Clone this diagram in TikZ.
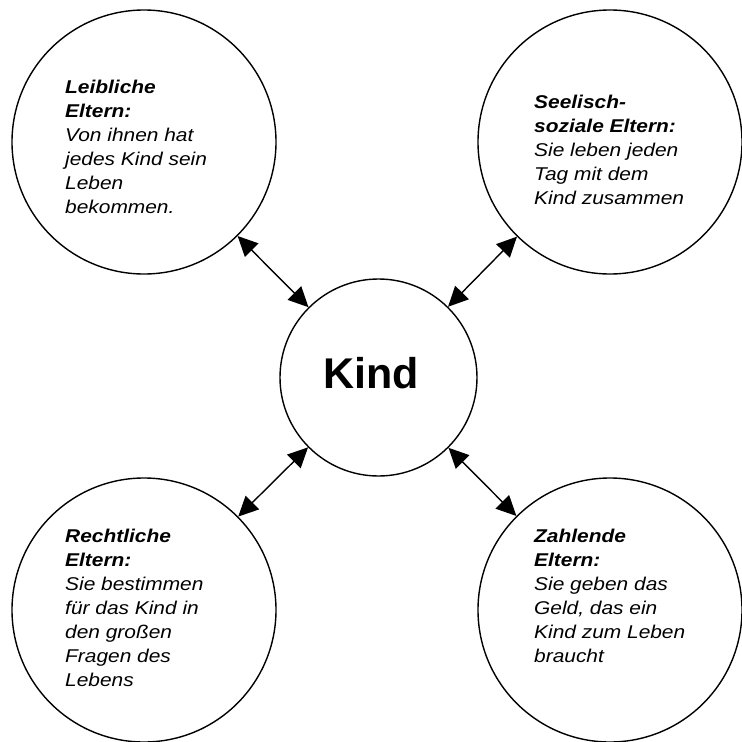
\documentclass[tikz,border=0pt]{standalone}
\usepackage{fontspec}
\usetikzlibrary{arrows.meta}
\newfontfamily\labfont[FakeStretch=1.13]{Liberation Sans}
\newfontfamily\kindfont{Liberation Sans}
\tikzset{
  ring/.style={circle, draw, line width=1.4pt, inner sep=0pt, minimum size=264pt},
  core/.style={circle, draw, line width=1.4pt, inner sep=0pt, minimum size=197pt},
  lbl/.style={anchor=base west, inner sep=0pt, font=\labfont\fontsize{18.5}{24}\selectfont},
  link/.style={line width=1.4pt, {Triangle[length=20pt,width=19pt]}-{Triangle[length=20pt,width=19pt]}}
}
\newcommand{\ttl}[1]{\textbf{\textit{#1}}}
\begin{document}
\begin{tikzpicture}[x=1pt,y=-1pt]
\useasboundingbox (0,0) rectangle (742,742);
\node[ring] (tl) at (144,142) {};
\node[ring] (tr) at (610,142) {};
\node[ring] (bl) at (144,610) {};
\node[ring] (br) at (610,610) {};
\node[core] (c) at (378.5,377.5) {};
\node[anchor=base west, inner sep=0pt, font=\kindfont\bfseries\fontsize{43}{50}\selectfont] (kind) at (323,388) {Kind};
\node[lbl] (tltext) at (65,93) {\begin{tabular}[t]{@{}l@{}}\ttl{Leibliche}\\ \ttl{Eltern:}\\ \textit{Von ihnen hat}\\ \textit{jedes Kind sein}\\ \textit{Leben}\\ \textit{bekommen.}\end{tabular}};
\node[lbl] (trtext) at (534,108) {\begin{tabular}[t]{@{}l@{}}\ttl{Seelisch-}\\ \ttl{soziale Eltern:}\\ \textit{Sie leben jeden}\\ \textit{Tag mit dem}\\ \textit{Kind zusammen}\end{tabular}};
\node[lbl] (bltext) at (65,542) {\begin{tabular}[t]{@{}l@{}}\ttl{Rechtliche}\\ \ttl{Eltern:}\\ \textit{Sie bestimmen}\\ \textit{für das Kind in}\\ \textit{den großen}\\ \textit{Fragen des}\\ \textit{Lebens}\end{tabular}};
\node[lbl] (brtext) at (534,542) {\begin{tabular}[t]{@{}l@{}}\ttl{Zahlende}\\ \ttl{Eltern:}\\ \textit{Sie geben das}\\ \textit{Geld, das ein}\\ \textit{Kind zum Leben}\\ \textit{braucht}\end{tabular}};
\draw[link] (tl) -- (c);
\draw[link] (tr) -- (c);
\draw[link] (bl) -- (c);
\draw[link] (br) -- (c);
\end{tikzpicture}
\end{document}
